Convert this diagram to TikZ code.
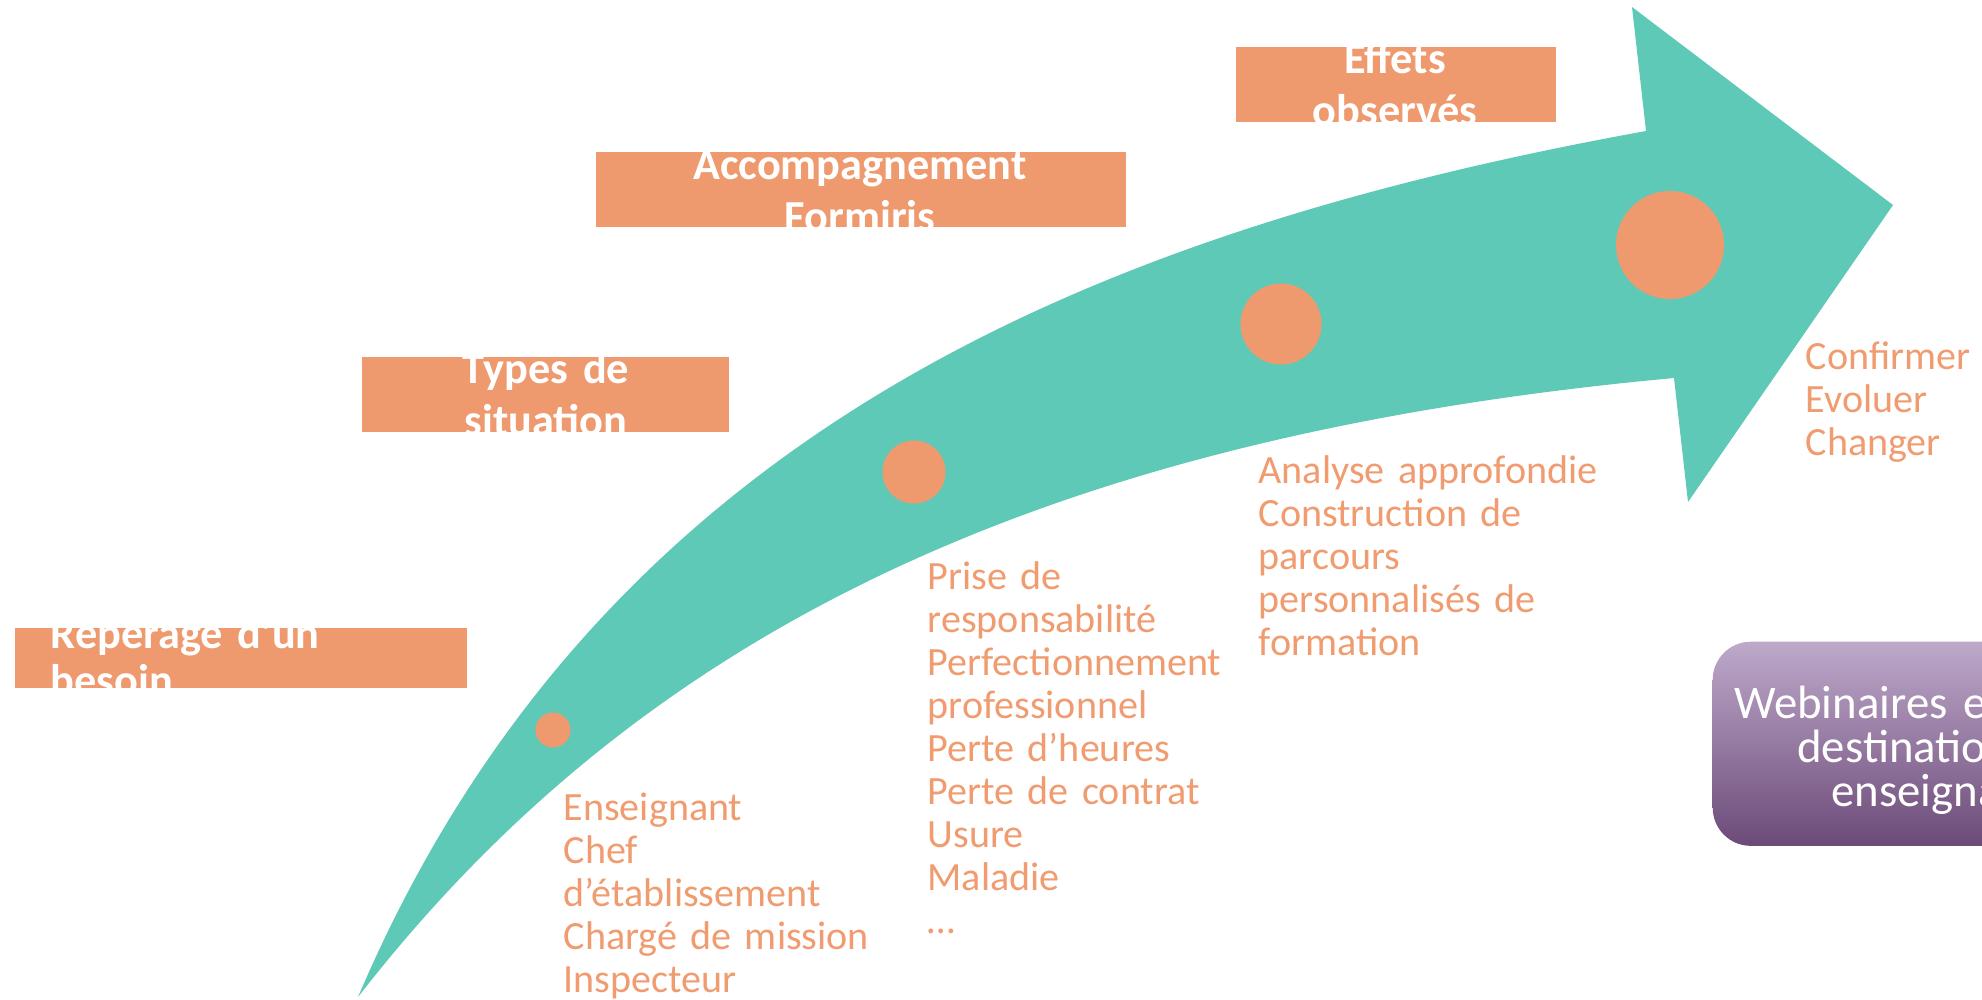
\documentclass[tikz,border=0pt]{standalone}
\usepackage{fontspec}
\setmainfont{Carlito}
\definecolor{arrowteal}{RGB}{94,201,183}
\definecolor{boxorange}{RGB}{238,154,110}
\definecolor{txtorange}{RGB}{240,156,112}
\definecolor{purpletop}{RGB}{190,169,202}
\definecolor{purplebot}{RGB}{108,74,120}
\begin{document}
\begin{tikzpicture}[x=0.01cm,y=-0.01cm,
  dot/.style={circle,fill=boxorange,inner sep=0pt,draw=none},
  stagebox/.style={rectangle,fill=boxorange,inner sep=0pt,draw=none,anchor=north west},
  boxtext/.style={text=white,inner sep=0pt,text width=7cm,font=\bfseries\fontsize{12.6}{15}\selectfont},
  listtext/.style={text=txtorange,inner sep=0pt,text width=6cm,align=left,anchor=base west,font=\fontsize{11.4}{12.23}\selectfont},
  webbox/.style={rectangle,rounded corners=0.38cm,top color=purpletop,bottom color=purplebot,draw=none,inner sep=0pt,anchor=north west},
  webtext/.style={text=white,inner sep=0pt,text width=7cm,align=center,anchor=base,font=\fontsize{13.3}{12.52}\selectfont}]
\useasboundingbox (0,0) rectangle (1982,999);
\begin{scope}
\clip (0,0) rectangle (1982,999);
% curved arrow
\fill[arrowteal] (358,997) .. controls (600,430) and (1100,230) .. (1646,131)
  -- (1632,7) -- (1893,205) -- (1688,502) -- (1674,378)
  .. controls (1000,440) and (620,660) .. (358,997) -- cycle;
% dots on the arrow
\node[dot,minimum size=0.35cm] (d1) at (553,730) {};
\node[dot,minimum size=0.63cm] (d2) at (914,472) {};
\node[dot,minimum size=0.81cm] (d3) at (1281,324) {};
\node[dot,minimum size=1.08cm] (d4) at (1670,245) {};
% stage boxes
\node[stagebox,minimum width=4.52cm,minimum height=0.60cm] (b1) at (14,627) {};
\node[stagebox,minimum width=3.67cm,minimum height=0.75cm] (b2) at (361,356) {};
\node[stagebox,minimum width=5.30cm,minimum height=0.75cm] (b3) at (595,151) {};
\node[stagebox,minimum width=3.20cm,minimum height=0.75cm] (b4) at (1235,46) {};
\begin{scope}
\clip (b1.south west) rectangle (b1.north east);
\node[boxtext,align=left,anchor=base west,font=\bfseries\fontsize{12.6}{13.4}\selectfont] (t1) at (50,648) {Repérage d’un\\besoin};
\end{scope}
\begin{scope}
\clip (b2.south west) rectangle (b2.north east);
\node[boxtext,align=center,anchor=base] (t2) at (546,383) {Types de\\situation};
\end{scope}
\begin{scope}
\clip (b3.south west) rectangle (b3.north east);
\node[boxtext,align=center,anchor=base] (t3) at (860,179) {Accompagnement\\Formiris};
\end{scope}
\begin{scope}
\clip (b4.south west) rectangle (b4.north east);
\node[boxtext,align=center,anchor=base] (t4) at (1395,73) {Effets\\observés};
\end{scope}
% lists
\node[listtext] (l1) at (563,820) {Enseignant\\Chef\\d’établissement\\Chargé de mission\\Inspecteur};
\node[listtext] (l2) at (927,589) {Prise de\\responsabilité\\Perfectionnement\\professionnel\\Perte d’heures\\Perte de contrat\\Usure\\Maladie\\…};
\node[listtext] (l3) at (1258,483) {Analyse approfondie\\Construction de\\parcours\\personnalisés de\\formation};
\node[listtext] (l4) at (1805,369) {Confirmer\\Evoluer\\Changer};
% webinar box
\node[webbox,minimum width=4.2cm,minimum height=2.04cm] (web) at (1712,641) {};
\node[webtext] (webt) at (1945,718) {Webinaires en ligne à\\destination des\\enseignants};
\end{scope}
\end{tikzpicture}
\end{document}
